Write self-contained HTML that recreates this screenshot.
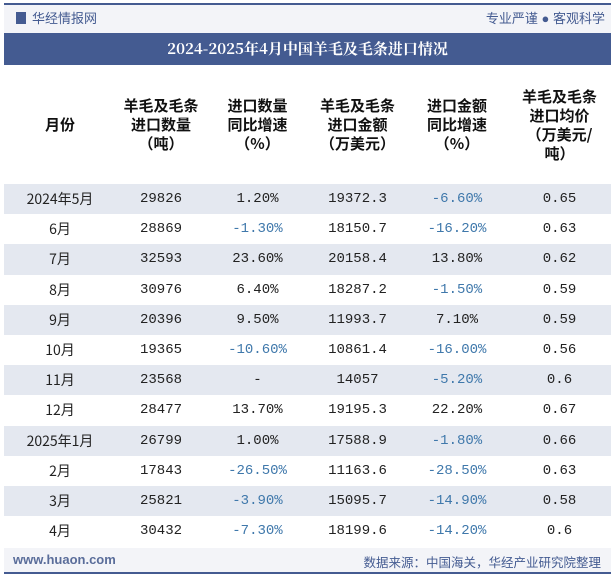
<!DOCTYPE html>
<html><head><meta charset="utf-8"><style>
body{margin:0;width:615px;height:580px;background:#fff;position:relative;font-family:"Liberation Sans","Noto Sans CJK SC",sans-serif;overflow:hidden}
.topline{position:absolute;left:4px;right:4px;top:3px;height:2px;background:#445b91}
.botline{position:absolute;left:4px;right:4px;top:572px;height:2px;background:#445b91}
.hdr{position:absolute;left:4px;top:5px;width:607px;height:28px;background:#f3f4f8}
.logo{position:absolute;left:16px;top:8px;font-size:13px;color:#445b91}
.slogan{position:absolute;right:10px;top:8px;font-size:13px;color:#445b91}
.title{position:absolute;left:4px;top:33px;width:607px;height:32px;background:#445b91;color:#fff;font-family:"Noto Serif CJK SC",serif;font-weight:bold;font-size:15px;text-align:center;line-height:32px}
table{position:absolute;left:4px;top:65px;width:607px;border-collapse:collapse;table-layout:fixed}
th{height:119px;font-family:"Noto Sans CJK SC",sans-serif;font-weight:bold;font-size:15px;line-height:19px;color:#111;padding:0}
tr.r{height:30.2px}
td{height:30.2px;padding:0;text-align:center;font-family:"Liberation Mono","Noto Sans CJK SC",monospace;font-size:14px;color:#222;line-height:16px;vertical-align:middle}
td.m{font-family:"Noto Sans CJK SC",sans-serif;font-size:14px;line-height:14px}
tr.g td{background:#e4e8f0}
td.n{color:#3f78ab}
.foot{position:absolute;left:4px;top:548px;width:607px;height:24px;background:#f3f4f8;font-size:12.5px;color:#445b91}
</style></head><body>
<div class="hdr"></div>
<div class="topline"></div>
<div class="logo"><span style="display:inline-block;width:10px;height:12px;background:#445b91;margin-right:6px;vertical-align:-1px"></span>华经情报网</div>
<div class="slogan">专业严谨 ● 客观科学</div>
<div class="title">2024-2025年4月中国羊毛及毛条进口情况</div>
<table>
<colgroup><col style="width:112px"><col style="width:90px"><col style="width:103px"><col style="width:97px"><col style="width:102px"><col></colgroup>
<tr>
<th>月份</th>
<th>羊毛及毛条<br>进口数量<br>（吨）</th>
<th>进口数量<br>同比增速<br>（%）</th>
<th>羊毛及毛条<br>进口金额<br>（万美元）</th>
<th>进口金额<br>同比增速<br>（%）</th>
<th>羊毛及毛条<br>进口均价<br>（万美元/<br>吨）</th>
</tr>
<tbody id="tb"></tbody>
</table>
<div class="foot"><span style="position:absolute;left:9px;top:4px;font-weight:bold;font-size:13px;color:#5a6d9a">www.huaon.com</span><span style="position:absolute;right:10px;top:4px">数据来源：中国海关，华经产业研究院整理</span></div>
<div class="botline"></div>
<script>
const months=["2024年5月","6月","7月","8月","9月","10月","11月","12月","2025年1月","2月","3月","4月"];
const volumes=["29826","28869","32593","30976","20396","19365","23568","28477","26799","17843","25821","30432"];
const volumeYoy=["1.20%","-1.30%","23.60%","6.40%","9.50%","-10.60%","-","13.70%","1.00%","-26.50%","-3.90%","-7.30%"];
const values=["19372.3","18150.7","20158.4","18287.2","11993.7","10861.4","14057","19195.3","17588.9","11163.6","15095.7","18199.6"];
const valueYoy=["-6.60%","-16.20%","13.80%","-1.50%","7.10%","-16.00%","-5.20%","22.20%","-1.80%","-28.50%","-14.90%","-14.20%"];
const prices=["0.65","0.63","0.62","0.59","0.59","0.56","0.6","0.67","0.66","0.63","0.58","0.6"];
const tb=document.getElementById('tb');
months.forEach((m,i)=>{
 const tr=document.createElement('tr');
 
 
 tr.className='r'+(i%2===0?' g':'');
 [m,volumes[i],volumeYoy[i],values[i],valueYoy[i],prices[i]].forEach((v,j)=>{
  const td=document.createElement('td');
  
  
  td.textContent=v;
  if(j===0)td.className='m';
  if((j===2||j===4)&&v.startsWith('-')&&v.length>1)td.className='n';
  tr.appendChild(td);
 });
 tb.appendChild(tr);
});
</script>
</body></html>
